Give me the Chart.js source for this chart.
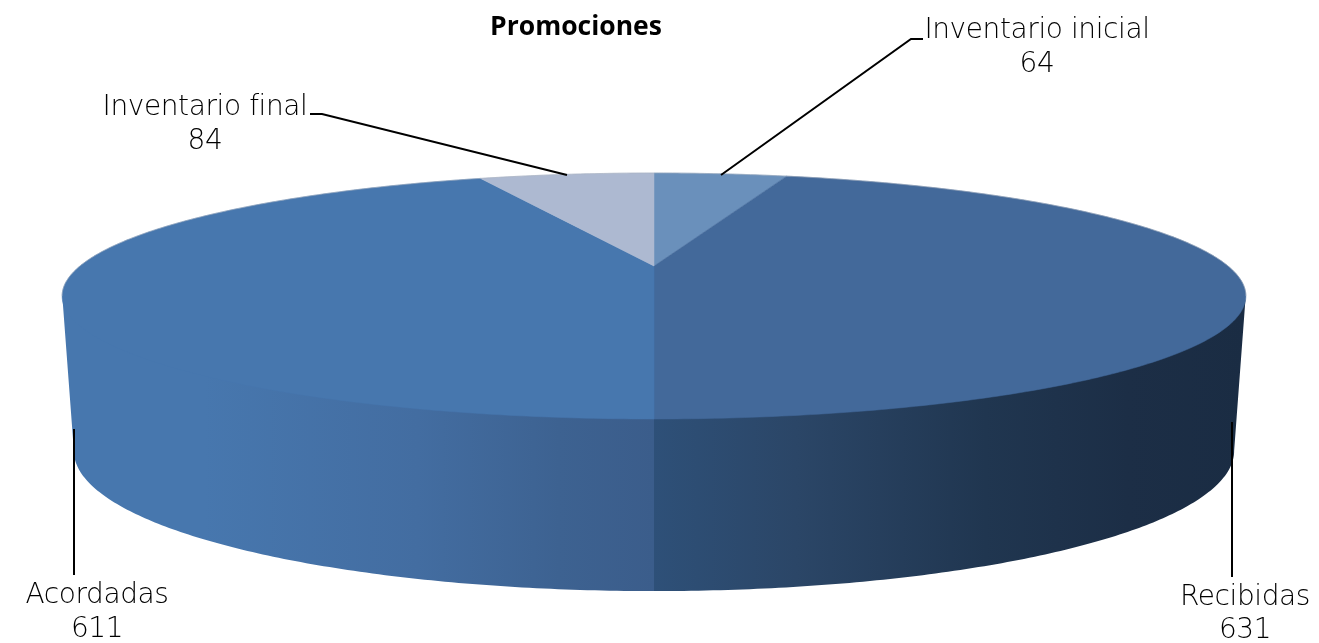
<!DOCTYPE html>
<html>
<head>
<meta charset="utf-8">
<style>
    html, body { margin: 0; background: #fff; }
    canvas { display: block; }
</style>
<script src="https://cdn.jsdelivr.net/npm/chart.js@4/dist/chart.umd.min.js"></script>
</head>
<body>
<canvas id="promoChart" width="1319" height="643"></canvas>
<script>
const categories = ['Inventario inicial', 'Recibidas', 'Acordadas', 'Inventario final'];
const values = [64, 631, 611, 84];
const chartTitle = 'Promociones';

const topColors = ['#6a90bb', '#43699a', '#4777ae', '#adb9d1'];

// side wall shading per slice, stops run from x = 62 to x = 1246
const wallStops = [
    [[0, '#6a90bb'], [1, '#6a90bb']],
    [[0.5, '#2e5078'], [0.62, '#2b4667'], [0.78, '#203650'], [0.9, '#1c2e46'], [1, '#1a2c43']],
    [[0, '#4777ae'], [0.12, '#4777ae'], [0.3, '#436da1'], [0.42, '#3d6291'], [0.5, '#3b5d8b']],
    [[0, '#adb9d1'], [1, '#adb9d1']]
];

// label placement: text centre, middle of both text lines, leader polyline
const labelStyle = [
    { x: 1037, y1: 31, y2: 65, line: [[721, 175], [911, 39], [923, 39]] },
    { x: 1245, y1: 598, y2: 631, line: [[1232, 422], [1232, 577]] },
    { x: 97, y1: 596, y2: 630, line: [[74, 429], [74, 575]] },
    { x: 205, y1: 108, y2: 142, line: [[567, 175], [322, 114], [310, 114]] }
];

// perspective of the disc, the centre of the pie sits above the middle of the ellipse
const persp = 0.2439;
const silhouette = Math.acos(-persp);
const topFace = { cx: 654, a: 574, b: 266, k: -50.8 };
const wallTop = { cx: 654, a: 574, b: 264, k: -50.8 };
const bottomFace = { cx: 654, a: 562.6, b: 416.9, k: -30 };

function project(face, theta) {
    const u = Math.sin(theta);
    const v = Math.cos(theta);
    const w = 1 + persp * v;
    return [face.cx + face.a * u / w, (face.b + face.k * v) / w];
}

function ringPath(ctx, face, from, to) {
    const steps = Math.max(2, Math.ceil(Math.abs(to - from) / 0.01));
    for (let i = 0; i <= steps; i++) {
        const p = project(face, from + (to - from) * i / steps);
        ctx.lineTo(p[0], p[1]);
    }
}

const pieIn3d = {
    id: 'pieIn3d',
    beforeDatasetsDraw(chart) {
        const ctx = chart.ctx;
        const arcs = chart.getDatasetMeta(0).data;
        const angles = arcs.map(a => {
            const p = a.getProps(['startAngle', 'endAngle']);
            return [p.startAngle + Math.PI / 2, p.endAngle + Math.PI / 2];
        });

        ctx.save();

        // side wall, only the part of each slice that faces the viewer
        angles.forEach((ang, i) => {
            const from = Math.max(ang[0], silhouette);
            const to = Math.min(ang[1], 2 * Math.PI - silhouette);
            if (to <= from) return;
            const grad = ctx.createLinearGradient(62, 0, 1246, 0);
            wallStops[i].forEach(s => grad.addColorStop(s[0], s[1]));
            ctx.beginPath();
            ringPath(ctx, wallTop, from, to);
            ringPath(ctx, bottomFace, to, from);
            ctx.closePath();
            ctx.fillStyle = grad;
            ctx.fill();
        });

        // top face
        angles.forEach((ang, i) => {
            ctx.beginPath();
            ctx.moveTo(topFace.cx, topFace.b);
            ringPath(ctx, topFace, ang[0], ang[1]);
            ctx.closePath();
            ctx.fillStyle = arcs[i].options.backgroundColor;
            ctx.fill();
            ctx.strokeStyle = arcs[i].options.backgroundColor;
            ctx.lineWidth = 0.5;
            ctx.stroke();
        });

        // thin pale rim along the back
        ctx.beginPath();
        ringPath(ctx, topFace, -silhouette, silhouette);
        ctx.strokeStyle = 'rgba(170,178,190,0.5)';
        ctx.lineWidth = 1;
        ctx.stroke();

        ctx.restore();
        return false;
    },
    afterDraw(chart) {
        const ctx = chart.ctx;
        ctx.save();
        ctx.strokeStyle = '#000';
        ctx.lineWidth = 2;
        ctx.fillStyle = '#000';
        ctx.font = "300 28px 'DejaVu Sans'";
        ctx.letterSpacing = '-0.4px';
        ctx.textAlign = 'center';
        ctx.textBaseline = 'middle';
        categories.forEach((name, i) => {
            const s = labelStyle[i];
            ctx.beginPath();
            s.line.forEach((p, j) => j ? ctx.lineTo(p[0], p[1]) : ctx.moveTo(p[0], p[1]));
            ctx.stroke();
            ctx.fillText(name, s.x, s.y1);
            ctx.fillText(String(values[i]), s.x, s.y2);
        });
        ctx.restore();
    }
};

new Chart(document.getElementById('promoChart'), {
    type: 'pie',
    data: {
        labels: categories,
        datasets: [{ data: values, backgroundColor: topColors, borderWidth: 0 }]
    },
    options: {
        responsive: false,
        animation: false,
        layout: { padding: { right: 167 } },
        plugins: {
            legend: { display: false },
            tooltip: { enabled: false },
            title: {
                display: true,
                text: chartTitle,
                color: '#000',
                font: { family: "'Open Sans'", size: 26.5, weight: 'bold' },
                padding: { top: 12, bottom: 0 }
            }
        }
    },
    plugins: [pieIn3d]
});
</script>
</body>
</html>
